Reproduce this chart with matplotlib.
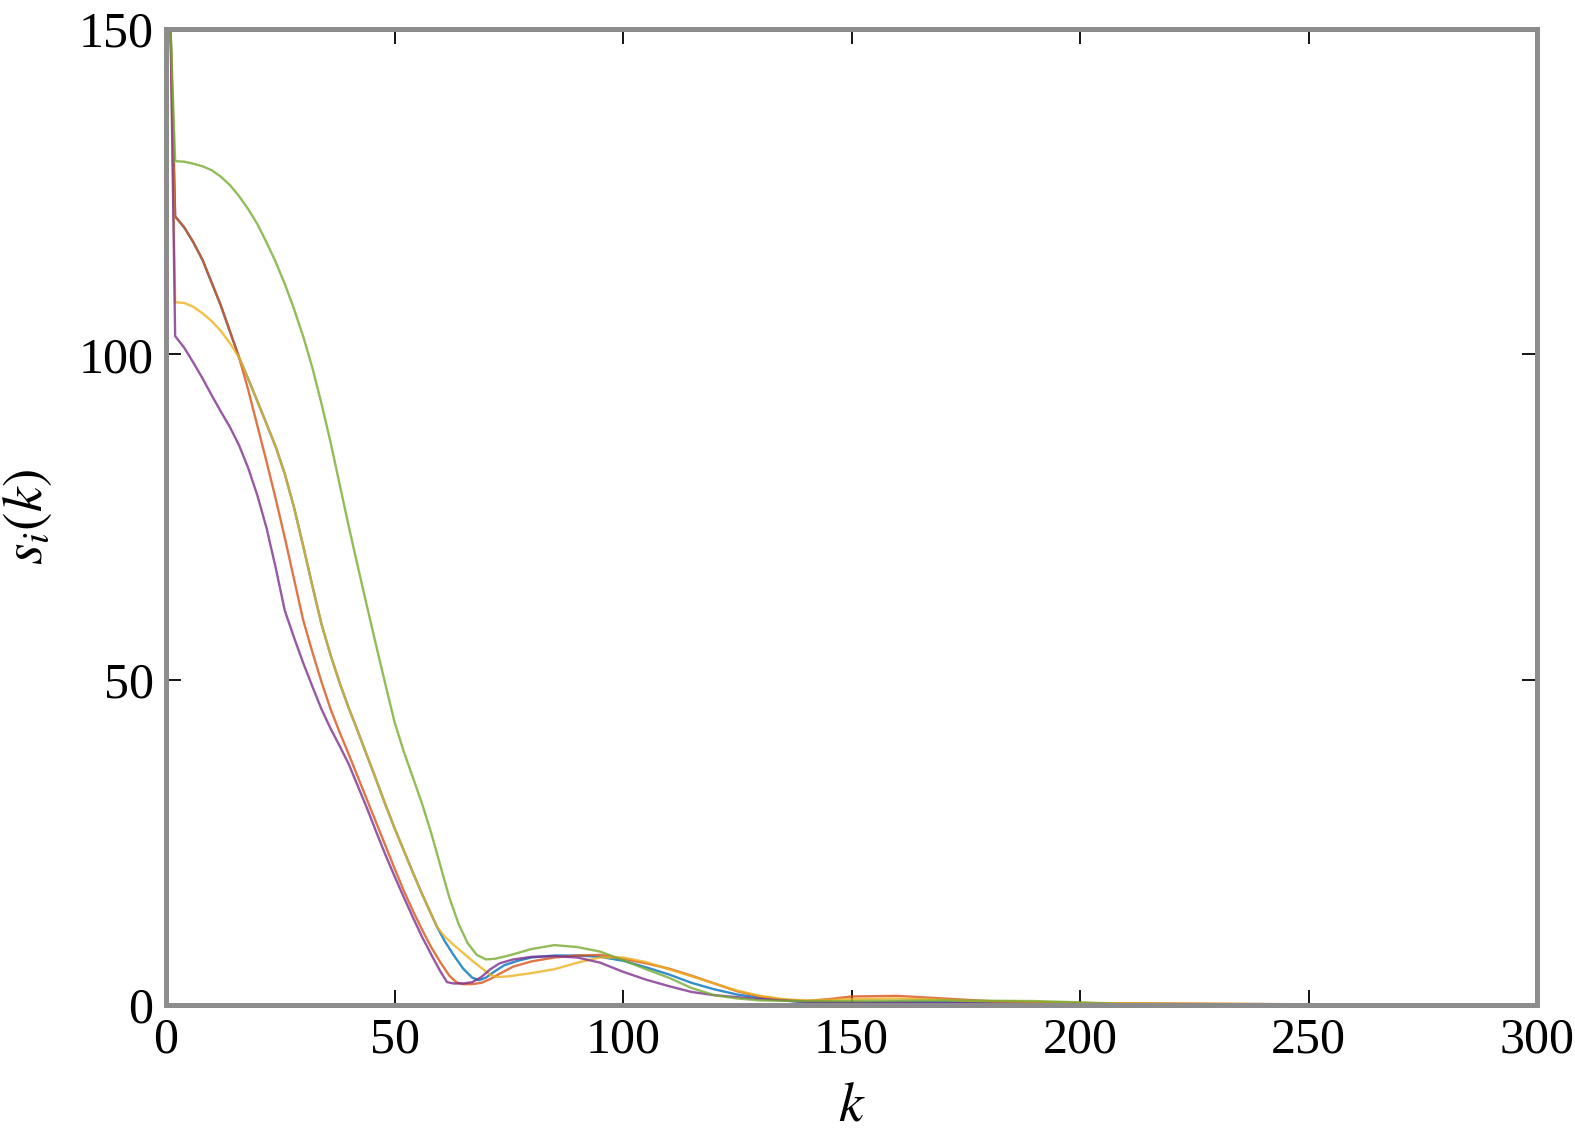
import matplotlib
matplotlib.use("Agg")
import matplotlib.pyplot as plt

# ---- data ----
k_blue = [1, 2, 4, 6, 8, 10, 12, 14, 16, 18, 20, 22, 24, 26, 28, 30, 32, 34, 36, 38, 40, 42, 44, 46, 48, 50,
          52, 54, 56, 58, 59.3, 61, 63, 65, 67, 68.5, 70, 72, 74, 77, 80, 85, 90, 95, 100, 105, 110, 115, 120,
          125, 130, 135, 140, 150, 160, 180, 200, 250, 300]
s_blue = [150, 121.2, 119.5, 117.2, 114.5, 111, 107.5, 103.5, 99.5, 96.2, 92.8, 89.3, 85.8, 81.6, 76.5, 70.6,
          64.5, 58.6, 53.8, 49.5, 45.6, 42, 38.3, 34.6, 30.8, 27.2, 23.8, 20.4, 17.1, 14, 12, 9.8, 7.6, 5.6, 4.2,
          3.8, 4.2, 5.2, 6.1, 6.8, 7.3, 7.6, 7.6, 7.4, 6.8, 5.8, 4.7, 3.4, 2.4, 1.6, 1.1, 0.7, 0.4, 0.3, 0.5, 0.4,
          0.2, 0.05, 0]

k_red = [1, 2, 4, 6, 8, 10, 12, 14, 16, 18, 20, 22, 24, 26, 28, 30, 32, 34, 36, 38, 40, 42, 44, 46, 48, 50,
         52, 54, 56, 58, 60, 62, 63.5, 65, 67, 69, 71, 73, 76, 80, 85, 90, 95, 100, 105, 110, 115, 120, 125, 130,
         135, 140, 145, 150, 160, 170, 180, 200, 250, 300]
s_red = [150, 121.2, 119.5, 117.2, 114.5, 111, 107.5, 103.5, 99.5, 94.5, 89, 83.5, 77.8, 71.8, 65.5, 59.2,
         54.3, 49.7, 45.5, 41.9, 38.5, 35, 31.5, 28, 24.5, 21, 17.6, 14.5, 11.6, 8.9, 6.6, 4.5, 3.5, 3.2, 3.2,
         3.4, 4.0, 4.8, 5.9, 6.7, 7.3, 7.6, 7.7, 7.1, 6.4, 5.6, 4.5, 3.3, 2.1, 1.3, 0.8, 0.6, 0.9, 1.3, 1.4, 1.0,
         0.6, 0.3, 0.1, 0]

k_yellow = [1, 2, 4, 6, 8, 10, 12, 14, 16, 18, 20, 22, 24, 26, 28, 30, 32, 34, 36, 38, 40, 42, 44, 46, 48, 50,
            52, 54, 56, 58, 59.3, 61, 63, 65, 67, 69, 71, 72.5, 75, 80, 85, 90, 95, 100, 105, 110, 115, 120, 125,
            130, 135, 140, 150, 160, 170, 180, 200, 250, 300]
s_yellow = [150, 108, 107.9, 107.3, 106.3, 105.1, 103.6, 101.7, 99.5, 96.2, 92.8, 89.3, 85.8, 81.6, 76.5, 70.6,
            64.5, 58.6, 53.8, 49.5, 45.6, 42, 38.3, 34.6, 30.8, 27.2, 23.8, 20.4, 17.1, 14, 12, 10.5, 9.2, 8,
            6.8, 5.7, 4.6, 4.3, 4.4, 4.9, 5.5, 6.5, 7.3, 7.3, 6.6, 5.5, 4.4, 3.3, 2.2, 1.4, 0.9, 0.7, 0.9, 1.0,
            0.8, 0.5, 0.3, 0.1, 0]

k_purple = [1, 2, 4, 6, 8, 10, 12, 14, 16, 18, 20, 22, 24, 26, 28, 30, 32, 34, 36, 38, 40, 42, 44, 46, 48, 50,
            52, 54, 56, 58, 60, 61.5, 63, 65, 67, 69, 71, 73, 76, 80, 85, 90, 95, 100, 105, 110, 115, 120, 125,
            130, 135, 140, 150, 170, 200, 250, 300]
s_purple = [150, 102.8, 101, 98.7, 96.3, 93.7, 91.2, 88.8, 86, 82.5, 78.3, 73.3, 67.2, 60.6, 56.5, 52.6, 49,
            45.5, 42.5, 39.8, 37, 33.6, 30.2, 26.6, 23.1, 19.8, 16.6, 13.5, 10.5, 7.8, 5.2, 3.5, 3.3, 3.3, 3.5,
            4.3, 5.5, 6.4, 7.0, 7.4, 7.5, 7.3, 6.5, 5.1, 3.9, 2.9, 2.0, 1.5, 1.2, 0.9, 0.7, 0.5, 0.4, 0.3, 0.1,
            0.05, 0]

k_green = [1, 2, 4, 6, 8, 10, 12, 14, 16, 18, 20, 22, 24, 26, 28, 30, 32, 34, 36, 38, 40, 42, 44, 46, 48, 50,
           52, 54, 56, 58, 60, 62, 64, 66, 68, 70, 72, 75, 80, 85, 90, 95, 100, 105, 110, 115, 120, 125, 130,
           140, 150, 170, 190, 200, 210, 250, 300]
s_green = [150, 129.7, 129.6, 129.3, 128.9, 128.3, 127.3, 126, 124.3, 122.3, 120, 117.2, 114.2, 110.8, 107,
           102.8, 98, 92.5, 86.5, 80, 73.5, 67.3, 61.2, 55.2, 49.3, 43.5, 39, 35, 31, 26.5, 21.5, 16.5, 12.5,
           9.5, 7.7, 7.0, 7.1, 7.6, 8.6, 9.2, 8.9, 8.2, 6.9, 5.5, 4.2, 2.6, 1.5, 1.0, 0.7, 0.6, 0.6, 0.7, 0.6,
           0.4, 0.1, 0.05, 0]

x_ticks = [0, 50, 100, 150, 200, 250, 300]
y_ticks = [0, 50, 100, 150]

series = [
    (k_blue, s_blue, (0.0, 0.447, 0.741)),
    (k_red, s_red, (0.85, 0.325, 0.098)),
    (k_yellow, s_yellow, (0.929, 0.694, 0.125)),
    (k_purple, s_purple, (0.494, 0.184, 0.556)),
    (k_green, s_green, (0.466, 0.674, 0.188)),
]

plt.rcParams['font.family'] = ['Liberation Serif', 'DejaVu Serif']
plt.rcParams['mathtext.fontset'] = 'stix'

fig = plt.figure(figsize=(15.75, 11.38), dpi=100)
ax = fig.add_axes([0.1054, 0.1169, 0.9759 - 0.1054, 0.9745 - 0.1169])

for kk, ss, col in series:
    ax.plot(kk, ss, color=col, lw=1.7, alpha=0.8, solid_joinstyle='round')

ax.set_xlim(0, 300)
ax.set_ylim(0, 150)
ax.set_xticks(x_ticks)
ax.set_yticks(y_ticks)
ax.tick_params(direction='in', length=11, width=1.3, color='black', labelsize=36,
               top=True, right=True, pad=9)
for sp in ax.spines.values():
    sp.set_color('#8c8c8c')
    sp.set_linewidth(3.6)

ax.set_xlabel('$k$', fontsize=40, labelpad=12)
ax.set_ylabel('$s_i(k)$', fontsize=40, labelpad=18)

fig.savefig('out.png', dpi=100)
